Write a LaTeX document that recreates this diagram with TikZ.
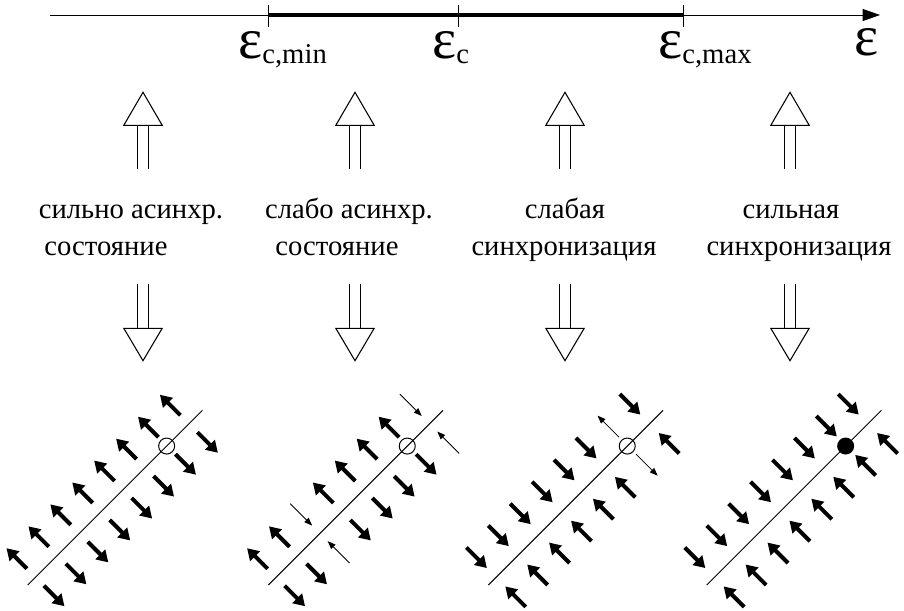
\documentclass[tikz,border=0pt]{standalone}
\usepackage{fontspec}
\setmainfont{Liberation Serif}
\usetikzlibrary{arrows.meta}
\newcommand\epsbig{{\fontsize{43}{43}\selectfont ε}}
\newcommand\subtxt[1]{\raisebox{-4pt}{\fontsize{21.5}{24}\selectfont #1}}
\tikzset{
  thickarr/.style={line width=3pt, -{Triangle[length=8.5pt,width=10pt]}},
  thinarr/.style={line width=0.6pt, -{Triangle[length=6pt,width=4.5pt]}},
  hollow/.style={line width=0.8pt, line join=miter},
  axisline/.style={line width=0.75pt},
  lbl/.style={font=\fontsize{21.5}{24}\selectfont, inner sep=0pt, anchor=base},
  elbl/.style={inner sep=0pt, anchor=base west},
  diagline/.style={line width=0.75pt},
}
\begin{document}
\begin{tikzpicture}[x=0.75pt,y=-0.75pt]
\useasboundingbox (0,0) rectangle (904,611);

% axis
\coordinate (a0) at (50,15);
\coordinate (a1) at (880,15);
\coordinate (tmin) at (268,15);
\coordinate (tc) at (458,15);
\coordinate (tmax) at (683,15);
\draw[axisline,-{Triangle[length=13pt,width=9pt]}] (a0) -- (a1);
\draw[line width=2.6pt] (tmin) -- (tmax);
\foreach \x in {268,458,683} \draw[axisline] (\x,5) -- (\x,27);

\node[elbl] (e1) at (238,58) {\epsbig\subtxt{c,min}};
\node[elbl] (e2) at (432,58) {\epsbig\subtxt{c}};
\node[elbl] (e3) at (658,58) {\epsbig\subtxt{c,max}};
\node[elbl] (e4) at (854,55) {\epsbig};

% hollow arrows
\foreach \cx in {143,355,565,790} {
  \draw[hollow] ({\cx-5.7},169) -- ({\cx-5.7},125.3) ({\cx+5.6},169) -- ({\cx+5.6},125.3);
  \draw[hollow] ({\cx-19.2},125.3) -- (\cx,92.3) -- ({\cx+19.2},125.3) -- cycle;
  \draw[hollow] ({\cx-5.7},284.3) -- ({\cx-5.7},328.3) ({\cx+5.6},284.3) -- ({\cx+5.6},328.3);
  \draw[hollow] ({\cx-19.2},328.3) -- (\cx,360.7) -- ({\cx+19.2},328.3) -- cycle;
}

% texts
\node[lbl] (t1a) at (131,218) {сильно асинхр.};
\node[lbl] (t1b) at (106,255) {состояние};
\node[lbl] (t2a) at (349,218) {слабо асинхр.};
\node[lbl] (t2b) at (337,255) {состояние};
\node[lbl] (t3a) at (565,218) {слабая};
\node[lbl] (t3b) at (564,255) {синхронизация};
\node[lbl] (t4a) at (791,218) {сильная};
\node[lbl] (t4b) at (799,255) {синхронизация};

% diagram 1: strongly asynchronous
\begin{scope}[shift={(27.7,585)}, rotate=45]
  \draw[diagline] (0,0) -- (247,0);
  \draw[diagline] (196.5,0) circle[radius=8];
  \foreach \k in {0,...,7} {
    \draw[thickarr] ({11+31*\k},-12) -- ({11+31*\k},-41);
    \draw[thickarr] ({11+31*\k},12) -- ({11+31*\k},41);
  }
\end{scope}

% diagram 2: weakly asynchronous
\begin{scope}[shift={(268.3,585)}, rotate=45]
  \draw[diagline] (0,0) -- (247,0);
  \draw[diagline] (196.5,0) circle[radius=8];
  \foreach \k in {0,1,3,4,5,6} {
    \draw[thickarr] ({11+31*\k},-12) -- ({11+31*\k},-41);
    \draw[thickarr] ({11+31*\k},12) -- ({11+31*\k},41);
  }
  \foreach \k in {2,7} {
    \draw[thinarr] ({11+31*\k},-42) -- ({11+31*\k},-11);
    \draw[thinarr] ({11+31*\k},42) -- ({11+31*\k},11);
  }
\end{scope}

% diagram 3: weak synchronization
\begin{scope}[shift={(488.3,585)}, rotate=45]
  \draw[diagline] (0,0) -- (247,0);
  \draw[diagline] (196.5,0) circle[radius=8];
  \foreach \k in {0,1,2,3,4,5,7} {
    \draw[thickarr] ({11+31*\k},-42) -- ({11+31*\k},-13);
    \draw[thickarr] ({11+31*\k},42) -- ({11+31*\k},13);
  }
  \foreach \k in {6} {
    \draw[thinarr] ({11+31*\k},-12) -- ({11+31*\k},-42.5);
    \draw[thinarr] ({11+31*\k},12) -- ({11+31*\k},42.5);
  }
\end{scope}

% diagram 4: strong synchronization
\begin{scope}[shift={(706.7,585)}, rotate=45]
  \draw[diagline] (0,0) -- (247,0);
  \fill (196.5,0) circle[radius=8.5];
  \foreach \k in {0,...,7} {
    \draw[thickarr] ({11+31*\k},-42) -- ({11+31*\k},-13);
    \draw[thickarr] ({11+31*\k},42) -- ({11+31*\k},13);
  }
\end{scope}
\end{tikzpicture}
\end{document}
